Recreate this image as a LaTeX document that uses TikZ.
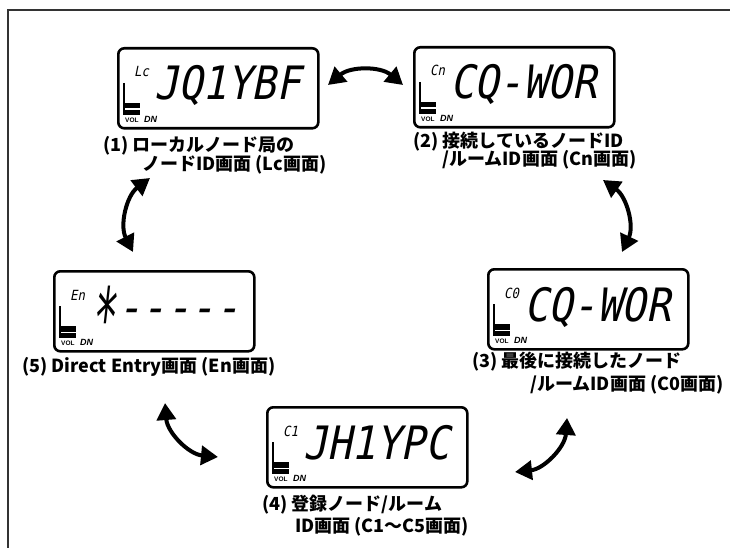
\documentclass[tikz,border=0pt]{standalone}
\usepackage{fontspec}
\usepackage{graphicx}
\usetikzlibrary{arrows.meta}
\newfontfamily\jp{Noto Sans CJK JP}
\newfontfamily\lcdf{DejaVu Sans Mono}[FakeSlant=0.2,FakeStretch=0.88]
\newfontfamily\lsans{Liberation Sans}
\tikzset{
 lcdbox/.style={draw, line width=2.6pt, rounded corners=6pt, minimum width=200pt, minimum height=80pt, inner sep=0pt},
 lbl/.style={font=\jp\bfseries\fontsize{18}{21}\selectfont, anchor=west, inner sep=0pt},
 lcdbig/.style={font=\lcdf\fontsize{46}{46}\selectfont, anchor=base west, inner sep=0pt},
 lcdsmall/.style={font=\lcdf\fontsize{14}{14}\selectfont, anchor=base west, inner sep=0pt},
 volt/.style={font=\lsans\bfseries\fontsize{6.5}{7}\selectfont, anchor=base west, inner sep=0pt},
 dnt/.style={font=\lsans\bfseries\itshape\fontsize{9}{9}\selectfont, anchor=base west, inner sep=0pt},
 dblarrow/.style={line width=4pt, {Triangle[length=17pt,width=19pt]}-{Triangle[length=17pt,width=19pt]}},
 framel/.style={line width=1.4pt, black!80},
}
\newcommand\lcdpanel[5]{%
 \node[lcdbox, anchor=north west] (#1) at (#2,#3) {};
 \begin{scope}[shift={(#1.north west)}]
  \draw[line width=1.3pt] (7,36) -- (7,68);
  \fill (8,56) rectangle (23,61.5);
  \fill (8,63) rectangle (23,68);
  \node[volt] (#1vol) at (8,75.5) {VOL};
  \node[dnt] (#1dn) at (27,75.5) {DN};
  \node[lcdsmall] (#1s) at (17,30) {#4};
  \node[lcdbig] (#1t) at (37,53) {#5};
 \end{scope}}
\begin{document}
\begin{tikzpicture}[x=1pt,y=-1pt]
\useasboundingbox (0,0) rectangle (730,548);
\draw[framel] (8,548) -- (8,10) -- (730,10);

\lcdpanel{d1}{117}{47}{Lc}{JQ1YBF}
\lcdpanel{d2}{413}{46}{Cn}{CQ-WOR}
\lcdpanel{d3}{487}{268}{C0}{CQ-WOR}
\lcdpanel{d4}{266}{406}{C1}{JH1YPC}
\lcdpanel{d5}{53}{270}{En}{\raisebox{-24pt}[34pt][0pt]{\scalebox{1}[1.8]{*}}\kern3pt-----}

\node[lbl] (l1a) at (103,146) {(1) ローカルノード局の};
\node[lbl] (l1b) at (142,165) {ノードID画面 (Lc画面)};
\node[lbl] (l2a) at (413,142) {(2) 接続しているノードID};
\node[lbl] (l2b) at (442,160) {/ルームID画面 (Cn画面)};
\node[lbl] (l3a) at (472,362) {(3) 最後に接続したノード};
\node[lbl] (l3b) at (530,385) {/ルームID画面 (C0画面)};
\node[lbl] (l4a) at (262,505) {(4) 登録ノード/ルーム};
\node[lbl] (l4b) at (295,527) {ID画面 (C1〜C5画面)};
\node[lbl] (l5) at (22,367) {(5) Direct Entry画面 (En画面)};

\coordinate (a12s) at (328,85);
\coordinate (a12e) at (403,85);
\coordinate (a15s) at (133,252);
\coordinate (a15e) at (150,178);
\coordinate (a23s) at (603,180);
\coordinate (a23e) at (622,252);
\coordinate (a54s) at (165,403);
\coordinate (a54e) at (218,457);
\coordinate (a34s) at (567,418);
\coordinate (a34e) at (515,472);
\draw[dblarrow] (a12s) to[bend left=40] (a12e);
\draw[dblarrow] (a15s) to[bend left=40] (a15e);
\draw[dblarrow] (a23s) to[bend left=40] (a23e);
\draw[dblarrow] (a54s) to[bend right=40] (a54e);
\draw[dblarrow] (a34s) to[bend left=40] (a34e);
\end{tikzpicture}
\end{document}
